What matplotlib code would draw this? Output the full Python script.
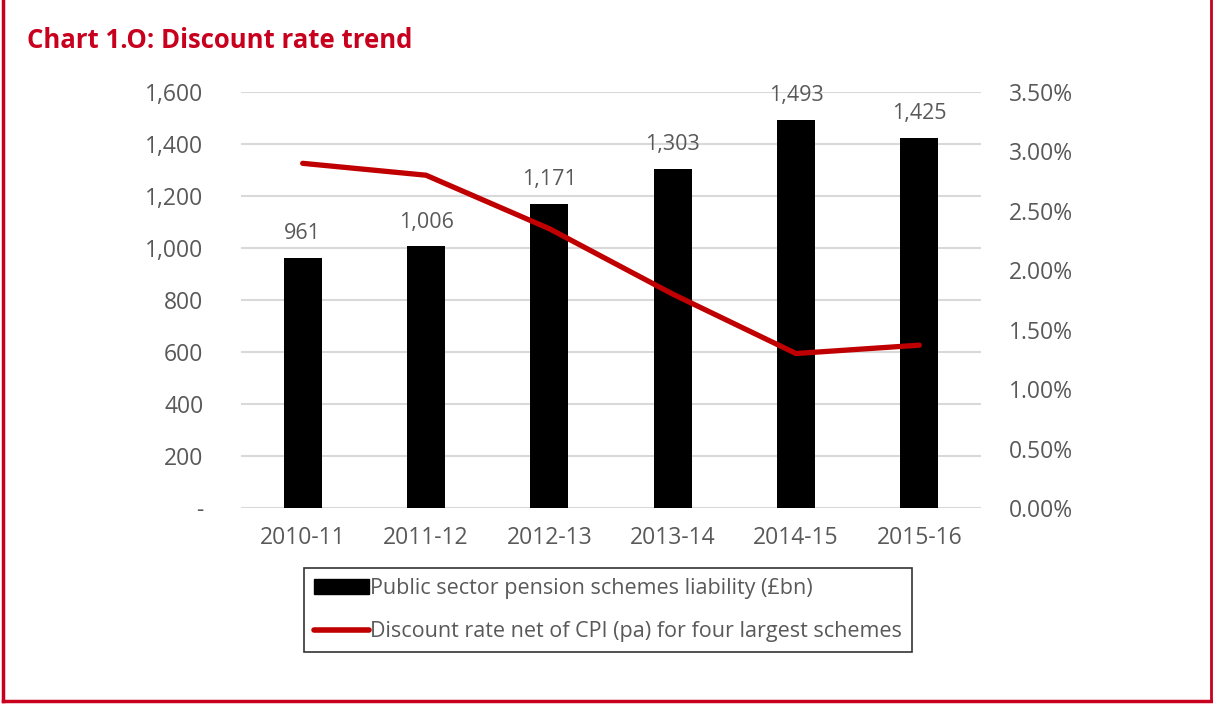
import matplotlib.pyplot as plt
from matplotlib.lines import Line2D
from matplotlib.patches import Patch
from matplotlib.ticker import FuncFormatter

plt.rcParams['font.family'] = ['Open Sans', 'DejaVu Sans']

years = ['2010-11', '2011-12', '2012-13', '2013-14', '2014-15', '2015-16']
liability = [961, 1006, 1171, 1303, 1493, 1425]
discount_rate = [2.90, 2.80, 2.35, 1.80, 1.30, 1.37]

grey = '#595959'
red = '#c00000'
frame_red = '#c8001e'

fig = plt.figure(figsize=(12.13, 7.04), dpi=100)
ax = fig.add_axes([0.1987, 0.2784, 0.610, 0.5909])
ax2 = ax.twinx()

x = list(range(len(years)))
ax.bar(x, liability, width=0.31, color='black', zorder=3)
for xi, v in zip(x, liability):
    ax.annotate(f'{v:,}', (xi, v), xytext=(0, 10), textcoords='offset points',
                ha='center', va='bottom', fontsize=15.5, color=grey)

ax2.plot(x, discount_rate, color=red, lw=3.8, solid_capstyle='round', zorder=4)

ax.set_xlim(-0.5, len(years) - 0.5)
ax.set_ylim(0, 1600)
ax.set_yticks(range(0, 1601, 200))
ax.yaxis.set_major_formatter(FuncFormatter(lambda v, p: '-' if v == 0 else f'{int(v):,}'))
ax.set_xticks(x)
ax.set_xticklabels(years)
ax.grid(axis='y', color='#d9d9d9', lw=1.5, zorder=0)
ax.set_axisbelow(True)

ax2.set_ylim(0, 3.5)
ax2.set_yticks([i * 0.5 for i in range(8)])
ax2.yaxis.set_major_formatter(FuncFormatter(lambda v, p: f'{v:.2f}%'))

for a in (ax, ax2):
    for s in a.spines.values():
        s.set_visible(False)
    a.tick_params(length=0, labelsize=16.5, labelcolor=grey)
ax.tick_params(axis='y', pad=27)
ax.tick_params(axis='x', pad=13)
ax2.tick_params(axis='y', pad=20)

fig.text(0.022, 0.943, 'Chart 1.O: Discount rate trend', fontsize=18.5,
         fontweight='bold', color=frame_red, va='center')

handles = [Patch(facecolor='black', edgecolor='black'),
           Line2D([0], [0], color=red, lw=4, solid_capstyle='round')]
labels = ['Public sector pension schemes liability (£bn)',
          'Discount rate net of CPI (pa) for four largest schemes']
leg = fig.legend(handles, labels, loc='upper left', bbox_to_anchor=(0.251, 0.193),
                 fontsize=15.5, frameon=True, fancybox=False, edgecolor='black',
                 handlelength=2.55, handletextpad=0.05, borderpad=0.45,
                 labelspacing=1.05, borderaxespad=0)
leg.get_frame().set_linewidth(1.2)
for t in leg.get_texts():
    t.set_color(grey)

# red frame on left, bottom and right
fig.add_artist(Line2D([0.0025, 0.0025], [0.0045, 1.0], color=frame_red, lw=2.5))
fig.add_artist(Line2D([0.0025, 0.9985], [0.0045, 0.0045], color=frame_red, lw=2.5))
fig.add_artist(Line2D([0.9985, 0.9985], [0.0045, 1.0], color=frame_red, lw=2))

fig.savefig('out.png', dpi=100)
